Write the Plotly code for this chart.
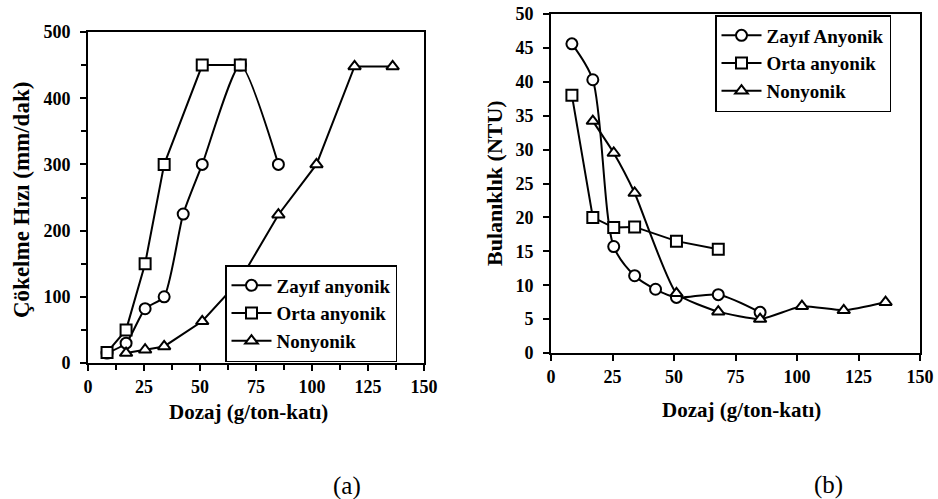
import plotly.graph_objects as go

W, H = 938, 499

# ---- Data: (a) settling rate ----
a_x_zayif = [8.5, 17, 25.5, 34, 42.5, 51, 68, 85]
a_y_zayif = [15, 30, 82, 100, 225, 300, 450, 300]
a_x_orta = [8.5, 17, 25.5, 34, 51, 68]
a_y_orta = [16, 50, 150, 300, 450, 450]
a_x_non = [17, 25.5, 34, 51, 68, 85, 102, 119, 136]
a_y_non = [15, 20, 25, 63, 126, 224, 300, 448, 448]

# ---- Data: (b) turbidity ----
b_x_zayif = [8.5, 17, 25.5, 34, 42.5, 51, 68, 85]
b_y_zayif = [45.6, 40.3, 15.7, 11.4, 9.4, 8.2, 8.6, 6.0]
b_x_orta = [8.5, 17, 25.5, 34, 51, 68]
b_y_orta = [38.0, 20.0, 18.5, 18.6, 16.5, 15.3]
b_x_non = [17, 25.5, 34, 51, 68, 85, 102, 119, 136]
b_y_non = [34.2, 29.5, 23.6, 8.8, 6.1, 5.0, 6.9, 6.3, 7.5]

x_ticks = [0, 25, 50, 75, 100, 125, 150]

FONT = "Liberation Serif"
BLK = "black"

def px_x(p):
    return p / W

def px_y(p):
    return 1 - p / H

fig = go.Figure()

def add(x, y, name, symbol, xa, ya, legend, shape="linear", smoothing=1.0, size=11):
    line = dict(color=BLK, width=2, shape=shape)
    if shape == "spline":
        line["smoothing"] = smoothing
    fig.add_trace(go.Scatter(
        x=x, y=y, name=name, mode="lines+markers",
        line=line,
        marker=dict(symbol=symbol, size=size, color="white",
                    line=dict(color=BLK, width=2)),
        xaxis=xa, yaxis=ya, legend=legend,
    ))

add(a_x_zayif, a_y_zayif, "Zayıf anyonik", "circle", "x", "y", "legend", "spline", 0.6)
add(a_x_orta, a_y_orta, "Orta anyonik", "square", "x", "y", "legend")
add(a_x_non, a_y_non, "Nonyonik", "triangle-up", "x", "y", "legend")

add(b_x_zayif, b_y_zayif, "Zayıf Anyonik", "circle", "x2", "y2", "legend2", "spline", 0.8)
add(b_x_orta, b_y_orta, "Orta anyonik", "square", "x2", "y2", "legend2")
add(b_x_non, b_y_non, "Nonyonik", "triangle-up", "x2", "y2", "legend2", "spline", 0.5)

tickfont = dict(family=FONT, size=18, color=BLK, weight="bold")
axis_common = dict(showline=True, linecolor=BLK, linewidth=2, mirror=True,
                   ticks="outside", ticklen=6, tickwidth=1.5, tickcolor=BLK,
                   showgrid=False, zeroline=False, tickfont=tickfont,
                   automargin=False)

legend_font = dict(family=FONT, size=19, color=BLK, weight="bold")

fig.update_layout(
    width=W, height=H,
    margin=dict(l=0, r=0, t=0, b=0, autoexpand=False),
    paper_bgcolor="white", plot_bgcolor="white",
    xaxis=dict(domain=[px_x(88), px_x(424)], range=[0, 150], tickvals=x_ticks,
               minor=dict(dtick=12.5, ticks="outside", ticklen=5, tickcolor=BLK),
               anchor="y", **axis_common),
    yaxis=dict(domain=[px_y(363), px_y(32)], range=[0, 500], dtick=100,
               minor=dict(dtick=50, ticks="outside", ticklen=5, tickcolor=BLK),
               anchor="x", ticklabelstandoff=6, **axis_common),
    xaxis2=dict(domain=[px_x(551), px_x(920)], range=[0, 150], tickvals=x_ticks,
                anchor="y2", **axis_common),
    yaxis2=dict(domain=[px_y(353), px_y(14)], range=[0, 50], dtick=5,
                anchor="x2", ticklabelstandoff=6, **axis_common),
    legend=dict(x=px_x(225), y=px_y(362), xanchor="left", yanchor="bottom",
                bordercolor=BLK, borderwidth=1.5, bgcolor="white",
                font=legend_font, itemwidth=40, tracegroupgap=0),
    legend2=dict(x=px_x(715), y=px_y(15), xanchor="left", yanchor="top",
                 bordercolor=BLK, borderwidth=1.5, bgcolor="white",
                 font=legend_font, itemwidth=40, tracegroupgap=0),
    showlegend=True,
)

def ann(text, x, y, size, angle=0, weight="bold"):
    fig.add_annotation(text=text, x=px_x(x), y=px_y(y), xref="paper", yref="paper",
                       showarrow=False, textangle=angle, xanchor="center", yanchor="middle",
                       font=dict(family=FONT, size=size, color=BLK, weight=weight))

ann("Dozaj (g/ton-katı)", 248, 412, 21)
ann("Dozaj (g/ton-katı)", 741, 410, 21)
ann("Çökelme Hızı (mm/dak)", 22, 200, 23, -90)
ann("Bulanıklık (NTU)", 494, 183, 22, -90)
ann("(a)", 347, 486, 25, weight="normal")
ann("(b)", 828, 485, 25, weight="normal")

fig.write_html("out.html", config={"displayModeBar": False},
               post_script="document.body.style.margin='0';")
